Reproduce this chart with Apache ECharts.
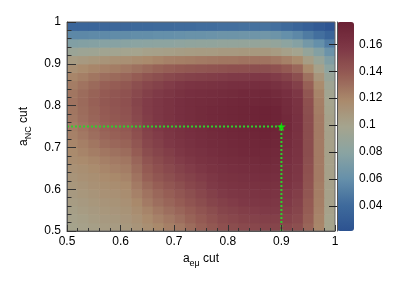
<!DOCTYPE html>
<html>
<head>
<meta charset="utf-8">
<script src="https://cdn.jsdelivr.net/npm/echarts@6/dist/echarts.min.js"></script>
<style>
html,body{margin:0;padding:0;background:#fff;}
#c{width:394px;height:283px;}
</style>
</head>
<body>
<div id="c"></div>
<script>
// bin centres (bin width 0.02)
const xCenters = [0.51,0.53,0.55,0.57,0.59,0.61,0.63,0.65,0.67,0.69,0.71,0.73,0.75,0.77,0.79,0.81,0.83,0.85,0.87,0.89,0.91,0.93,0.95,0.97,0.99];
const yCenters = [0.51,0.53,0.55,0.57,0.59,0.61,0.63,0.65,0.67,0.69,0.71,0.73,0.75,0.77,0.79,0.81,0.83,0.85,0.87,0.89,0.91,0.93,0.95,0.97,0.99];

// z values, one row per y bin (bottom to top), left to right in x
const r51 = [.100,.101,.103,.105,.106,.108,.111,.115,.119,.123,.126,.131,.136,.140,.144,.146,.148,.149,.150,.150,.148,.145,.134,.120,.100];
const r53 = [.101,.103,.105,.107,.108,.110,.113,.118,.122,.126,.130,.135,.139,.143,.147,.149,.151,.152,.153,.153,.151,.148,.136,.121,.100];
const r55 = [.103,.105,.107,.109,.110,.112,.116,.121,.126,.130,.134,.138,.142,.146,.150,.152,.154,.155,.156,.156,.154,.150,.138,.122,.101];
const r57 = [.105,.107,.109,.111,.112,.114,.119,.125,.130,.134,.138,.142,.146,.150,.153,.155,.157,.158,.159,.158,.156,.152,.139,.123,.101];
const r59 = [.107,.109,.111,.113,.114,.116,.122,.128,.133,.137,.141,.145,.149,.153,.156,.158,.159,.160,.161,.160,.158,.154,.141,.124,.102];
const r61 = [.109,.111,.113,.115,.116,.118,.125,.132,.137,.141,.145,.149,.152,.156,.159,.160,.161,.162,.163,.162,.160,.156,.142,.124,.102];
const r63 = [.111,.113,.115,.117,.119,.121,.128,.136,.141,.145,.149,.152,.155,.158,.161,.162,.163,.164,.165,.164,.162,.158,.143,.125,.102];
const r65 = [.113,.115,.117,.120,.122,.124,.131,.139,.144,.148,.152,.155,.158,.161,.163,.164,.165,.166,.167,.166,.163,.159,.144,.125,.102];
const r67 = [.116,.118,.120,.123,.125,.127,.134,.142,.147,.151,.155,.158,.161,.163,.165,.166,.167,.168,.169,.168,.164,.160,.145,.125,.102];
const r69 = [.118,.121,.124,.127,.129,.131,.138,.146,.150,.154,.158,.161,.163,.165,.167,.168,.169,.170,.170,.169,.165,.161,.146,.125,.102];
const r71 = [.120,.123,.127,.131,.133,.135,.141,.149,.153,.157,.160,.163,.165,.167,.168,.169,.170,.171,.172,.171,.167,.162,.146,.125,.102];
const r73 = [.122,.126,.130,.134,.136,.138,.144,.151,.155,.159,.162,.164,.166,.168,.169,.170,.171,.172,.173,.172,.168,.162,.146,.125,.102];
const r75 = [.124,.128,.132,.136,.138,.140,.146,.153,.157,.160,.163,.165,.167,.169,.170,.171,.172,.173,.174,.173,.169,.163,.146,.125,.101];
const r77 = [.126,.130,.134,.138,.140,.142,.148,.154,.158,.161,.164,.166,.168,.169,.170,.171,.172,.173,.174,.173,.169,.163,.146,.125,.101];
const r79 = [.127,.131,.135,.139,.141,.143,.149,.155,.158,.161,.164,.166,.168,.169,.170,.171,.172,.173,.174,.173,.168,.162,.145,.124,.100];
const r81 = [.128,.132,.136,.140,.142,.144,.150,.155,.158,.161,.164,.166,.167,.168,.169,.170,.171,.171,.172,.171,.167,.161,.144,.123,.099];
const r83 = [.127,.131,.135,.139,.141,.143,.148,.153,.156,.159,.162,.164,.165,.166,.167,.168,.169,.169,.170,.168,.164,.158,.141,.121,.097];
const r85 = [.124,.128,.132,.136,.138,.140,.145,.149,.152,.155,.158,.160,.161,.162,.163,.164,.164,.165,.165,.163,.159,.153,.136,.117,.094];
const r87 = [.120,.123,.127,.130,.132,.134,.138,.142,.145,.148,.150,.152,.153,.154,.155,.156,.156,.157,.157,.155,.151,.145,.129,.110,.089];
const r89 = [.114,.117,.120,.122,.124,.126,.129,.132,.135,.137,.139,.140,.141,.142,.143,.144,.144,.145,.145,.143,.139,.133,.118,.101,.082];
const r91 = [.105,.107,.109,.111,.113,.114,.116,.118,.120,.122,.123,.124,.125,.126,.127,.127,.128,.128,.128,.126,.122,.117,.104,.090,.074];
const r93 = [.091,.093,.094,.096,.097,.098,.099,.101,.102,.103,.104,.105,.106,.106,.107,.107,.108,.108,.108,.106,.102,.098,.087,.076,.063];
const r95 = [.075,.076,.077,.078,.078,.079,.080,.081,.082,.082,.083,.084,.085,.085,.086,.086,.087,.087,.088,.086,.082,.077,.068,.060,.050];
const r97 = [.056,.056,.057,.057,.058,.058,.059,.059,.060,.060,.061,.062,.062,.063,.064,.064,.065,.065,.066,.064,.060,.056,.049,.043,.036];
const r99 = [.037,.037,.037,.038,.038,.038,.039,.039,.040,.040,.041,.041,.042,.042,.043,.043,.044,.044,.045,.043,.040,.036,.032,.028,.024];
const zRows = [r51,r53,r55,r57,r59,r61,r63,r65,r67,r69,r71,r73,r75,r77,r79,r81,r83,r85,r87,r89,r91,r93,r95,r97,r99];

// colour-scale range and its tick labels
const zMin = 0.0215, zMax = 0.1765;
const zTicks = [0.04,0.06,0.08,0.1,0.12,0.14,0.16];
// best cut marker
const bestX = 0.9, bestY = 0.75;
const axisMin = 0.5, axisMax = 1.0;
const binW = 0.02;

const cells = [];
yCenters.forEach((y, j) => xCenters.forEach((x, i) => cells.push([x, y, zRows[j][i]])));

const chart = echarts.init(document.getElementById('c'), null, {renderer:'canvas'});
const FONT = 'Liberation Sans, Arial, Helvetica, sans-serif';
const labelStyle = {color:'#000', fontSize:12, fontFamily:FONT};
const fmt = v => (Math.abs(v-1)<1e-9 ? '1' : (+v.toFixed(2)).toString());

chart.setOption({
  animation:false,
  backgroundColor:'#fff',
  grid:[
    {left:67, top:22, width:268, height:209, show:true, borderColor:'#666', borderWidth:1, backgroundColor:'transparent', z:3},
    {left:337, top:22, width:17, height:209, show:false}
  ],
  xAxis:[
    {gridIndex:0, type:'value', min:axisMin, max:axisMax, interval:0.1,
     name:'{m|a}{s|eμ}{m| cut}', nameLocation:'middle', nameGap:21,
     nameTextStyle:{fontFamily:FONT, rich:{m:{fontSize:12, fontFamily:FONT, color:'#000', lineHeight:16, verticalAlign:'top'}, s:{fontSize:9, fontFamily:FONT, color:'#000', lineHeight:16, verticalAlign:'top', padding:[6,0,0,0]}}},
     axisLine:{show:true, lineStyle:{color:'#555', width:1}},
     axisTick:{show:true, inside:true, length:6, lineStyle:{color:'#333'}},
     minorTick:{show:true, splitNumber:5, length:3, lineStyle:{color:'#333'}},
     splitLine:{show:false}, minorSplitLine:{show:false},
     axisLabel:Object.assign({margin:5, formatter:fmt}, labelStyle), z:5},
    {gridIndex:1, type:'value', min:0, max:1, show:false}
  ],
  yAxis:[
    {gridIndex:0, type:'value', min:axisMin, max:axisMax, interval:0.1,
     name:'{m|a}{s|NC}{m| cut}', nameLocation:'middle', nameGap:33, nameRotate:90,
     nameTextStyle:{fontFamily:FONT, rich:{m:{fontSize:12, fontFamily:FONT, color:'#000', lineHeight:16, verticalAlign:'top'}, s:{fontSize:9, fontFamily:FONT, color:'#000', lineHeight:16, verticalAlign:'top', padding:[6,0,0,0]}}},
     axisLine:{show:true, lineStyle:{color:'#555', width:1}},
     axisTick:{show:true, inside:true, length:9, lineStyle:{color:'#333'}},
     minorTick:{show:true, splitNumber:5, length:4.5, lineStyle:{color:'#333'}},
     splitLine:{show:false}, minorSplitLine:{show:false},
     axisLabel:Object.assign({margin:6, formatter:fmt}, labelStyle), z:5},
    {gridIndex:1, type:'value', min:zMin, max:zMax, position:'right',
     axisLine:{show:true, lineStyle:{color:'#555', width:1}},
     axisTick:{show:true, inside:true, length:8, customValues:zTicks, lineStyle:{color:'#222'}},
     splitLine:{show:false},
     axisLabel:Object.assign({margin:5, customValues:zTicks, formatter:fmt}, labelStyle), z:10}
  ],
  visualMap:{
    type:'continuous', min:zMin, max:zMax, dimension:2, seriesIndex:0,
    left:337, top:22, itemWidth:17, itemHeight:209, padding:0,
    calculable:false, show:true, text:null, z:1,
    textStyle:{color:'transparent'},
    inRange:{color:['#2c5290','#3f6b9c','#6690aa','#8aa4a2','#a5a48e','#aa8a6c','#955c54','#7e3846','#6a2034']}
  },
  series:[
    {type:'custom', xAxisIndex:0, yAxisIndex:0, data:cells, clip:true, z:1,
     renderItem:function(params, api){
       const x = api.value(0), y = api.value(1);
       const p0 = api.coord([x - binW/2, y + binW/2]);
       const p1 = api.coord([x + binW/2, y - binW/2]);
       return {type:'rect', shape:{x:p0[0], y:p0[1], width:p1[0]-p0[0]+0.6, height:p1[1]-p0[1]+0.6},
               style:{fill:api.visual('color')}};
     }},
    {type:'line', xAxisIndex:0, yAxisIndex:0, data:[[axisMin,bestY],[bestX,bestY]], symbol:'none', z:4,
     lineStyle:{color:'#2ed12e', width:2, type:[2,2]}},
    {type:'line', xAxisIndex:0, yAxisIndex:0, data:[[bestX,axisMin],[bestX,bestY]], symbol:'none', z:4,
     lineStyle:{color:'#2ed12e', width:2, type:[2,2]}},
    {type:'scatter', xAxisIndex:0, yAxisIndex:0, data:[[bestX,bestY]], z:6,
     symbol:'path://M50,0 L61,35 L98,35 L68,57 L79,91 L50,70 L21,91 L32,57 L2,35 L39,35 Z',
     symbolSize:9, itemStyle:{color:'#00ff00'}}
  ]
});
</script>
</body>
</html>
